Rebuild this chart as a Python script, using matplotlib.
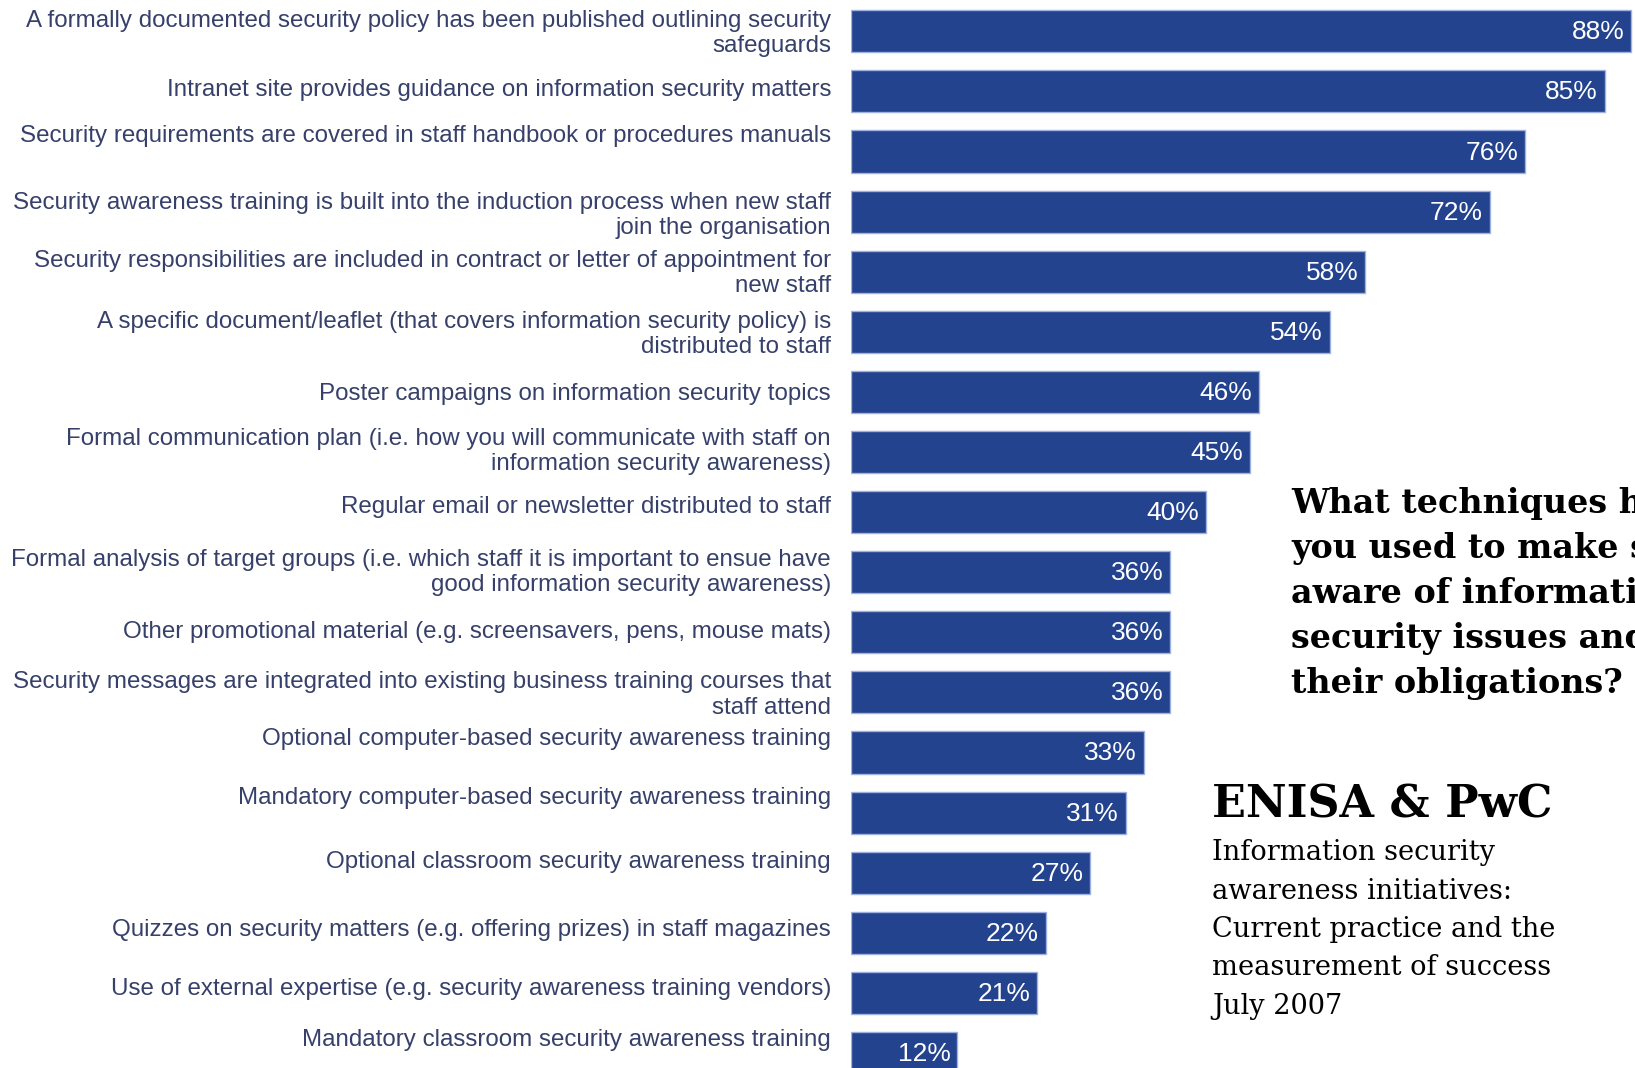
import matplotlib
matplotlib.use("Agg")
import matplotlib.pyplot as plt

# ---------------- data ----------------
categories = [
    "A formally documented security policy has been published outlining security\nsafeguards",
    "Intranet site provides guidance on information security matters",
    "Security requirements are covered in staff handbook or procedures manuals",
    "Security awareness training is built into the induction process when new staff\njoin the organisation",
    "Security responsibilities are included in contract or letter of appointment for\nnew staff",
    "A specific document/leaflet (that covers information security policy) is\ndistributed to staff",
    "Poster campaigns on information security topics",
    "Formal communication plan (i.e. how you will communicate with staff on\ninformation security awareness)",
    "Regular email or newsletter distributed to staff",
    "Formal analysis of target groups (i.e. which staff it is important to ensue have\ngood information security awareness)",
    "Other promotional material (e.g. screensavers, pens, mouse mats)",
    "Security messages are integrated into existing business training courses that\nstaff attend",
    "Optional computer-based security awareness training",
    "Mandatory computer-based security awareness training",
    "Optional classroom security awareness training",
    "Quizzes on security matters (e.g. offering prizes) in staff magazines",
    "Use of external expertise (e.g. security awareness training vendors)",
    "Mandatory classroom security awareness training",
]
values = [88, 85, 76, 72, 58, 54, 46, 45, 40, 36, 36, 36, 33, 31, 27, 22, 21, 12]
value_labels = [f"{v}%" for v in values]

title_lines = [
    "What techniques have",
    "you used to make staff",
    "aware of information",
    "security issues and",
    "their obligations?",
]
source_title = "ENISA & PwC"
source_lines = [
    "Information security",
    "awareness initiatives:",
    "Current practice and the",
    "measurement of success",
    "July 2007",
]

# ---------------- layout ----------------
W, H, DPI = 1635, 1068, 100
# vertical nudges of category labels (pixels, positive = up)
label_nudge = [-2.6, 1, 15.6, -3.6, -2, -3, -2, 0.5, 5, -0.5, 0, -2.6, 13.5, 14.6, 10.4, 3, 4, 12.5]

BAR_COLOR = "#23438f"
EDGE_COLOR = "#9fb1e0"
LABEL_COLOR = "#36406a"

fig = plt.figure(figsize=(W / DPI, H / DPI), dpi=DPI)
fig.patch.set_facecolor("white")

left_px = 851
ax = fig.add_axes([left_px / W, 0, 1 - left_px / W, 1])
n = len(values)
y = list(range(n))
ax.barh(y, values, height=0.70, color=BAR_COLOR, edgecolor=EDGE_COLOR, linewidth=1.0)

ax.set_xlim(0, 88.4)
ax.set_ylim(17.25, -0.521)
ax.axis("off")

for i, (cat, v, vl) in enumerate(zip(categories, values, value_labels)):
    ax.annotate(cat, xy=(0, i), xycoords=("axes fraction", "data"),
                xytext=(-20, label_nudge[i]), textcoords="offset pixels",
                ha="right", va="center", fontsize=17.4, color=LABEL_COLOR,
                family="Liberation Sans", linespacing=1.18, annotation_clip=False)
    ax.annotate(vl, xy=(v, i), xycoords="data",
                xytext=(-7, -1), textcoords="offset pixels",
                ha="right", va="center", fontsize=19, color="white",
                family="Liberation Sans", annotation_clip=False)

# right-hand text block
tx = 1291 / W
for k, line in enumerate(title_lines):
    fig.text(tx, 1 - (504 + k * 44.8) / H, line, ha="left", va="center",
             fontsize=24, fontweight="bold", family="DejaVu Serif", color="black")

sx = 1212 / W
fig.text(sx, 1 - 805 / H, source_title, ha="left", va="center",
         fontsize=32, fontweight="bold", family="DejaVu Serif", color="black")
for k, line in enumerate(source_lines):
    fig.text(sx, 1 - (853 + k * 38.3) / H, line, ha="left", va="center",
             fontsize=19.6, family="DejaVu Serif", color="black")

fig.savefig("out.png", dpi=DPI)
